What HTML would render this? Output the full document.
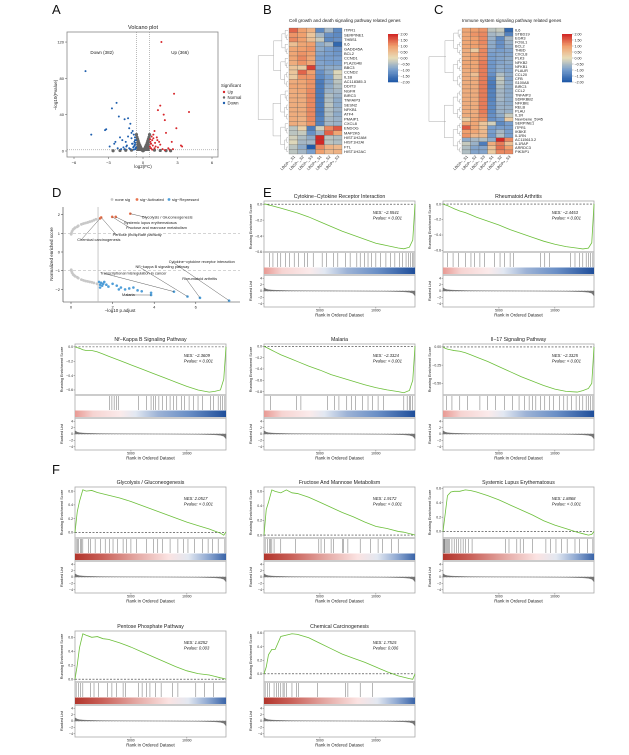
<!DOCTYPE html>
<html><head><meta charset="utf-8"><style>
html,body{margin:0;padding:0;background:#fff;}
svg{display:block;font-family:"Liberation Sans",Arial,sans-serif;}
</style></head><body>
<svg id="fig" width="629" height="755" viewBox="0 0 629 755">
<rect width="629" height="755" fill="#fff"/>
<g font-size="13" fill="#111">
<text x="52" y="14">A</text>
<text x="263" y="14">B</text>
<text x="434" y="14">C</text>
<text x="52" y="197">D</text>
<text x="263" y="197">E</text>
<text x="52" y="474">F</text>
</g>
</svg>
<script>
// ---------------- DATA ----------------
const downFC=[-5.0,-4.5,-3.2,-3.3,-2.3,-2.7,-2.1,-1.6,-1.3,-1.1,-1.2,-0.9,-0.8,-2.0,-1.8,-1.5,-1.0,-0.7,-0.9,-1.4,-2.5,-1.7,-1.2,-0.8,-0.7,-1.0,-1.3,-2.9,-2.2,-1.9,-0.75,-0.85,-0.65,-1.1,-0.95,-0.7,-1.6,-2.4,-1.45,-0.8,-0.62,-0.68,-0.72,-0.6,-0.66];
const downP=[88,18,24,23,53,47,38,35,36,30,25,22,18,15,12,10,14,12,8,6,8,4,3,5,7,20,16,5,3,2,10,4,3,2,8,15,2,10,5,1.5,12,9,6,4,2];
const upFC=[1.6,2.7,4.0,1.3,1.5,1.8,1.9,2.9,2.5,3.3,1.0,0.9,1.2,0.8,0.7,1.1,1.4,2.0,2.2,0.75,0.85,1.7,1.0,0.9,0.65,1.3,2.6,3.4,1.5,0.7,0.8,1.05,1.25,2.3,1.9,0.62,0.68,0.6,0.66];
const upP=[120,63,43,45,50,40,34,25,10,6,22,18,15,12,8,5,10,20,3,16,6,2,3,14,10,4,2,5,7,3,1.5,9,12,1.5,1,13,8,5,3];
const normFC=[-0.57,-0.52,-0.47,-0.42,-0.37,-0.32,-0.27,-0.22,-0.17,-0.12,-0.07,0,0.07,0.12,0.17,0.22,0.27,0.32,0.37,0.42,0.47,0.52,0.57,-2.0,-1.5,-1.0,1.0,1.5,2.0,-2.6,2.4];
const normP=[18,15,13,11,9,7,6,4.5,3,2,1,0.3,1,2,3,4.5,6,7,9,11,13,15,18,0.5,0.8,0.9,1.0,0.6,0.4,0.3,0.3];
const volXTicks=[-6,-3,0,3,6];
const volYTicks=[0,40,80,120];

const hmCols=["LBGP−_S1","LBGP−_S2","LBGP−_S3","LBGP+_S1","LBGP+_S2","LBGP+_S3"];
const genesB=["ITPR1","SERPINE1","THBS1","IL6","GADD45A","BCL2","CCND1","PLA2G4B","BBC3","CCND2","IL1B","AC118385.3","DDIT3","NGFR","BIRC3","TNFAIP3","SESN2","NFKB1","ATF4","PMAIP1","CXCL8","ENDOG","MAP2K6","HIST1H2AM","HIST1H2AI","FTL","HIST1H2AC"];
const valsB=[[1.5,1.0,0.7,-1.3,-0.6,-1.3],[1.1,1.0,0.4,-0.6,-1.2,-1.3],[1.2,1.0,0.5,-0.3,-1.3,-1.2],[0.5,0.9,1.0,-0.8,-0.6,-1.8],[0.9,1.0,1.1,-0.8,-1.0,-1.2],[0.9,1.1,1.0,-0.9,-1.0,-1.1],[0.9,1.2,0.9,-1.0,-1.0,-1.0],[0.8,1.1,0.9,-0.9,-1.0,-1.0],[0.4,0.3,1.8,-0.9,-0.8,-0.8],[0.4,1.5,1.0,-1.2,-0.8,-0.1],[0.3,1.1,1.1,-1.3,-1.0,-0.2],[0.8,0.9,1.1,-1.5,-0.9,-0.4],[0.9,0.9,1.1,-1.5,-0.8,-0.5],[0.8,0.9,1.2,-1.5,-0.7,-0.6],[0.8,0.8,1.2,-1.5,-0.5,-0.7],[0.8,0.8,1.2,-1.5,-0.5,-0.8],[0.8,0.8,1.2,-1.5,-0.4,-0.8],[0.8,0.8,1.2,-1.5,-0.5,-0.7],[0.8,0.8,1.2,-1.5,-0.5,-0.8],[0.8,0.7,1.2,-1.4,-0.6,-0.7],[0.8,0.7,1.1,-1.4,-0.6,-0.7],[-0.4,0.2,-1.5,-0.2,1.2,1.6],[-0.4,-0.3,-1.2,-0.7,1.5,0.9],[-0.2,-0.5,-0.8,2.0,-0.4,-0.5],[-0.1,-0.6,-0.6,2.0,-0.4,-0.5],[-0.4,-0.8,-2.0,1.2,0.7,0.6],[-0.4,-0.6,-1.0,1.0,0.6,0.7]];
const genesC=["IL6","STBD19","EGR3","FOSL1","BCL2","THBD","CXCL8","PLK3","NFKB2","NFKB1","PLAUR","CCL20","CFB","S100A8","BIRC3","CCL2","TNFAIP3","SDRKBB2","NFKBIE","RELB","PLAU","IL1R","NewGene_5945","SERPINE1","ITPR1","IKBKE","IL1RN","AC115613.2","IL1RAP","ARRDC3","PIK3IP1"];
const valsC=[[0.9,1.0,1.1,-0.4,-0.3,-1.8],[0.9,1.1,1.2,-0.6,-0.5,-1.4],[0.9,1.0,1.2,-0.7,-1.3,-0.6],[0.9,1.0,1.2,-0.8,-1.2,-0.7],[0.9,1.0,1.1,-0.8,-1.2,-0.8],[0.8,0.3,1.2,-0.9,-1.0,-0.9],[0.8,1.0,1.2,-1.0,-0.9,-0.9],[0.8,1.0,1.2,-1.0,-0.9,-0.8],[0.9,0.9,1.3,-1.1,-0.9,-0.8],[0.9,0.9,1.3,-1.1,-0.8,-0.9],[0.8,0.9,1.3,-1.1,-0.8,-0.9],[0.8,0.5,1.3,-1.2,-0.5,-0.8],[0.8,0.8,1.3,-1.4,-0.3,-0.9],[0.8,0.8,1.3,-1.5,-0.4,-0.8],[0.8,0.8,1.3,-1.5,-0.5,-0.8],[0.8,0.8,1.3,-1.4,-0.6,-0.8],[0.8,0.8,1.3,-1.4,-0.6,-0.8],[0.8,0.8,1.3,-1.4,-0.6,-0.8],[0.8,0.8,1.3,-1.3,-0.7,-0.8],[0.8,0.8,1.3,-1.3,-0.7,-0.7],[0.8,0.8,1.3,-1.3,-0.7,-0.7],[0.8,0.8,1.2,-1.2,-0.8,-0.3],[0.3,0.9,1.1,-1.2,-1.0,0.3],[0.9,0.9,0.4,-0.2,-1.3,-1.0],[1.6,0.9,0.5,-1.0,-1.0,-1.0],[1.0,0.9,0.6,-1.0,-0.6,-1.0],[1.1,0.6,0.6,-1.1,-0.5,-1.0],[-0.8,-0.6,-0.5,-0.8,2.0,1.2],[-0.3,-0.7,-1.5,0.8,1.3,0.5],[-0.5,-0.9,-0.9,0.5,1.4,1.0],[-0.5,-0.9,-0.9,0.3,1.2,1.2]];
const cbTicks=[2.0,1.5,1.0,0.5,0.0,-0.5,-1.0,-1.5,-2.0];

const noneP=[0.02,0.05,0.1,0.15,0.2,0.3,0.35,0.5,0.6,0.7,0.8,0.9,1.0,1.1,1.2,0.02,0.05,0.1,0.15,0.2,0.3,0.35,0.5,0.6,0.7,0.8,0.9,1.0,1.1,1.25,0.01,0.01];
const noneNES=[1.0,1.1,1.2,1.25,1.3,1.35,1.4,1.48,1.52,1.55,1.58,1.62,1.65,1.7,1.75,-1.0,-1.1,-1.2,-1.25,-1.3,-1.35,-1.4,-1.48,-1.52,-1.55,-1.57,-1.6,-1.62,-1.65,-1.7,-0.95,0.95];
const actP=[1.4,1.45,1.98,2.15,2.85];
const actNES=[1.8,1.85,1.88,1.88,2.05];
const repP=[1.35,1.4,1.45,1.5,1.55,1.6,1.4,1.7,1.8,2.0,2.2,2.4,2.6,2.8,3.0,3.2,3.4,2.3,3.85,3.85,4.95,5.6,6.2,7.6];
const repNES=[-1.6,-1.75,-1.65,-1.8,-1.7,-1.6,-1.9,-1.75,-1.85,-1.7,-1.8,-1.9,-2.0,-1.95,-1.9,-2.05,-2.1,-2.0,-2.18,-2.3,-2.12,-2.38,-2.45,-2.6];
const annText=["Glycolysis / Gluconeogenesis","Systemic lupus erythematosus","Fructose and mannose metabolism","Pentose phosphate pathway","Chemical carcinogenesis","Cytokine−cytokine receptor interaction","NF−kappa B signaling pathway","Transcriptional misregulation in cancer","Rheumatoid arthritis","Malaria"];
const annPtP=[2.85,2.15,1.98,1.45,1.4,7.6,5.6,4.95,6.2,3.85];
const annPtNES=[2.05,1.88,1.88,1.85,1.8,-2.6,-2.38,-2.12,-2.45,-2.3];
const annLabP=[3.4,2.55,2.65,2.0,0.3,4.7,3.1,1.4,5.35,2.45];
const annLabNES=[1.8,1.5,1.23,0.85,0.6,-0.6,-0.86,-1.2,-1.5,-2.35];
const dXTicks=[0,2,4,6];
const dYTicks=[2,1,0,-1,-2];

const esRanks=[0,200,400,700,1000,1500,2000,2500,3000,4000,5000,6000,7000,8000,9000,10000,11000,12000,12500,13000,13300,13500];
const rankedMetric=[1.0,0.6,0.4,0.3,0.25,0.2,0.15,0.12,0.1,0.07,0.05,0.03,0.01,-0.01,-0.03,-0.06,-0.1,-0.18,-0.25,-0.4,-0.7,-1.5];
const gseaTitles=["Cytokine−Cytokine Receptor Interaction","Rheumatoid Arthritis","Nf−Kappa B Signaling Pathway","Malaria","Il−17 Signaling Pathway","Glycolysis / Gluconeogenesis","Fructose And Mannose Metabolism","Systemic Lupus Erythematosus","Pentose Phosphate Pathway","Chemical Carcinogenesis"];
const gseaNES=["−2.5541","−2.4453","−2.3609","−2.3324","−2.3325","2.0517","1.9172","1.8868","1.8252","1.7515"];
const gseaP=["< 0.001","< 0.001","< 0.001","< 0.001","< 0.001","< 0.001","< 0.001","< 0.001","0.003","0.006"];
const es0=[0,0,-0.01,-0.02,-0.03,-0.05,-0.07,-0.09,-0.11,-0.16,-0.22,-0.28,-0.34,-0.39,-0.44,-0.49,-0.52,-0.55,-0.56,-0.54,-0.45,0];
const es1=[0,-0.01,-0.02,-0.04,-0.06,-0.09,-0.11,-0.14,-0.17,-0.22,-0.27,-0.33,-0.38,-0.43,-0.48,-0.52,-0.55,-0.57,-0.58,-0.57,-0.5,0];
const es2=[0,-0.01,-0.02,-0.04,-0.05,-0.05,-0.07,-0.1,-0.13,-0.19,-0.25,-0.31,-0.37,-0.43,-0.49,-0.55,-0.6,-0.63,-0.62,-0.6,-0.45,0];
const es3=[0,-0.02,-0.04,-0.07,-0.1,-0.15,-0.19,-0.23,-0.27,-0.35,-0.42,-0.5,-0.56,-0.62,-0.68,-0.73,-0.77,-0.8,-0.82,-0.78,-0.6,0];
const es4=[0,-0.02,-0.03,-0.04,-0.05,-0.06,-0.08,-0.11,-0.14,-0.2,-0.27,-0.34,-0.41,-0.47,-0.53,-0.58,-0.61,-0.62,-0.6,-0.57,-0.5,0];
const es5=[0,0.3,0.45,0.62,0.6,0.61,0.58,0.56,0.54,0.5,0.45,0.39,0.33,0.27,0.21,0.15,0.1,0.05,0.02,-0.01,-0.04,0.01];
const es6=[0,0.35,0.45,0.62,0.6,0.58,0.62,0.58,0.57,0.52,0.45,0.38,0.31,0.25,0.18,0.12,0.09,0.05,0.04,0.02,0.01,0];
const es7=[0,0.25,0.5,0.55,0.56,0.56,0.58,0.57,0.55,0.5,0.44,0.37,0.3,0.23,0.15,0.09,0.04,-0.01,-0.03,-0.05,-0.04,0];
const es8=[0,0.2,0.45,0.65,0.63,0.6,0.61,0.58,0.57,0.52,0.46,0.39,0.32,0.25,0.18,0.12,0.08,0.06,0.04,0.02,0.01,0];
const es9=[0,0.1,0.28,0.36,0.36,0.55,0.57,0.59,0.58,0.53,0.45,0.37,0.29,0.23,0.17,0.1,0.03,-0.03,-0.05,-0.07,-0.08,0];
const hits0=[500,800,1200,1500,1900,2300,2700,3100,3600,3900,4400,5200,5600,6200,6600,7300,7700,8300,8600,9000,9300,9600,10000,10400,10900,11300,11700,12100,12400,12700,12900,13100,13300,13400];
const hits1=[400,900,1400,2000,2500,2800,3300,3700,4600,5100,5500,6000,6300,8700,9100,9500,11400,11800,12200,12500,12800,13000,13200,13400];
const hits2=[3100,3300,3500,3700,3900,5700,6400,6800,7000,7200,7500,7800,8200,8500,8800,9100,9500,9800,10200,10600,11000,11400,12100,12400,12800,13000,13200,13400];
const hits3=[600,2900,3300,5700,6300,6700,7400,7800,8200,8800,9300,9700,10200,10700,12500,12800,13000,13100,13300];
const hits4=[300,800,1500,2200,3300,4000,4700,5500,6200,6800,7300,7700,8000,8300,8700,9100,9500,9900,10400,10800,11100,11500,11900,12200,12500,12800,13000,13200,13400];
const hits5=[100,200,300,500,600,700,1200,1400,1800,2300,2700,3100,3400,3800,4300,4600,5000,5500,6400,7000,7400,7800,8500,9200,9700,10100,10700,11400,11900,12300,12800,13400];
const hits6=[100,300,500,600,700,900,1500,2800,4900,5100,5400,6000,6200,7000,7100,7500,8600,9500,10200,10600,11400,12000];
const hits7=[50,100,150,200,300,400,500,600,800,1000,1200,1400,1600,1800,2000,2300,2600,5600,5900,6600,6900,7200,8000,9200,9600,10100,10600,11100,11800,12200,12900,13400];
const hits8=[100,300,500,700,1400,1700,2100,2900,3300,3700,4300,4500,5700,6000,6400,6700,7200,7700,8700,9200,10800,11600,12400];
const hits9=[100,300,500,900,1100,1300,1500,1700,1800,2000,2500,2900,3100,4800,7300,7500,8600,9700,13400];
const esList=[es0,es1,es2,es3,es4,es5,es6,es7,es8,es9];
const hitList=[hits0,hits1,hits2,hits3,hits4,hits5,hits6,hits7,hits8,hits9];
const rankTicks=[5000,10000];
const metricTicks=[4,2,0,-2,-4];

// ---------------- DRAWING ----------------
const NS="http://www.w3.org/2000/svg";
const svg=document.getElementById('fig');
function mk(tag,attrs,parent){const e=document.createElementNS(NS,tag);for(const k in attrs)e.setAttribute(k,attrs[k]);(parent||svg).appendChild(e);return e;}
function txt(x,y,s,size,parent,extra){const t=mk('text',Object.assign({x:x,y:y,'font-size':size,fill:'#222'},extra||{}),parent);t.textContent=s;return t;}

(function(){
 const g=mk('g',{});
 
 
 const X0=67,X1=218,Y0=32,Y1=157;
 const sx=v=>143+v*11.5, sy=v=>151-v*0.908;
 const fr=mk('rect',{x:X0,y:Y0,width:X1-X0,height:Y1-Y0,fill:'none',stroke:'#888','stroke-width':0.8},g);
 
 
 const t=txt(143,29,"Volcano plot",5.5,g,{'text-anchor':'middle'});
 
 
 volXTicks.forEach(v=>{mk('line',{x1:sx(v),x2:sx(v),y1:Y1,y2:Y1+2,stroke:'#555','stroke-width':0.5},g);txt(sx(v),Y1+7,v===0?"0":String(v).replace('-','−'),4,g,{'text-anchor':'middle'});});
 volYTicks.forEach(v=>{mk('line',{x1:X0-2,x2:X0,y1:sy(v),y2:sy(v),stroke:'#555','stroke-width':0.5},g);txt(X0-3,sy(v)+1.5,String(v),4,g,{'text-anchor':'end'});});
 const xl=txt(143,168,"log2(FC)",4.5,g,{'text-anchor':'middle'});
 
 
 const yl=txt(0,0,"−log10(Pvalue)",4.5,g,{'text-anchor':'middle',transform:`translate(57,95) rotate(-90)`});
 
 
 [sx(-0.58),sx(0.58)].forEach(x=>mk('line',{x1:x,x2:x,y1:Y0,y2:Y1,stroke:'#777','stroke-width':0.5,'stroke-dasharray':'1,1'},g));
 mk('line',{x1:X0,x2:X1,y1:sy(1.3),y2:sy(1.3),stroke:'#777','stroke-width':0.5,'stroke-dasharray':'1,1'},g);
 normFC.forEach((v,i)=>{const c=mk('circle',{cx:sx(v),cy:sy(normP[i]),r:1.6,fill:'#666'},g);
  
  });
 const vpts=normFC.slice(0,23).map((v,i)=>`${sx(v)},${sy(normP[i])}`);
 mk('polygon',{points:vpts.join(' ')+` ${sx(0.57)},${sy(0)} ${sx(-0.57)},${sy(0)}`,fill:'#666'},g);
 downFC.forEach((v,i)=>{const c=mk('circle',{cx:sx(v),cy:sy(downP[i]),r:1,fill:'#1f5fae'},g);
  
  });
 upFC.forEach((v,i)=>{const c=mk('circle',{cx:sx(v),cy:sy(upP[i]),r:1,fill:'#d7262b'},g);
  
  });
 const d=txt(102,54,"Down (382)",4.5,g,{'text-anchor':'middle'});
 
 
 const u=txt(180,54,"Up (366)",4.5,g,{'text-anchor':'middle'});
 
 
 const lg=mk('g',{},g);
 
 
 txt(221,87,"Significant",4.3,lg);
 [["Up","#d7262b"],["Normal","#666"],["Down","#1f5fae"]].forEach((e,i)=>{mk('circle',{cx:224,cy:92+i*5.5,r:1.2,fill:e[1]},lg);txt(227.5,93.5+i*5.5,e[0],4.3,lg);});
})();

function hmColor(v){
 const stops=[[-2,[33,90,168]],[-1,[120,158,205]],[0,[232,221,184]],[1,[240,160,110]],[2,[210,40,38]]];
 v=Math.max(-2,Math.min(2,v));
 for(let i=0;i<stops.length-1;i++){const a=stops[i],b=stops[i+1];if(v<=b[0]){const t=(v-a[0])/(b[0]-a[0]);return 'rgb('+a[1].map((c,j)=>Math.round(c+(b[1][j]-c)*t)).join(',')+')';}}
 return 'rgb(210,40,38)';
}
function heatmap(name,title,genes,vals,X0,X1,Y0,Y1,dendX,cbX){
 const g=mk('g',{});
 
 
 const n=genes.length, cw=(X1-X0)/hmCols.length, rh=(Y1-Y0)/n;
 const tt=txt(X0,22,title,4.6,g);
 
 
 vals.forEach((row,r)=>row.forEach((v,c)=>{const cell=mk('rect',{x:X0+c*cw,y:Y0+r*rh,width:cw,height:rh,fill:hmColor(v),stroke:'#555','stroke-width':0.25},g);
  
  }));
 genes.forEach((s,r)=>{const t=txt(X1+2,Y0+r*rh+rh*0.8,s,Math.min(4,rh*0.95),g);
  
  });
 hmCols.forEach((s,c)=>{const x=X0+c*cw+cw/2;const t=txt(0,0,s,3.8,g,{'text-anchor':'end',transform:`translate(${x+2},${Y1+3}) rotate(-45)`});
  
  });
 function dend(a,b,depth){ if(b-a<=1){return {y:Y0+(a+0.5)*rh,x:X0-1};}
  const m=Math.floor((a+b)/2);const l=dend(a,m,depth+1),r=dend(m,b,depth+1);
  const x=Math.min(l.x,r.x)-Math.max(1.2,(b-a)*0.55);
  mk('path',{d:`M${l.x},${l.y}H${x}V${r.y}H${r.x}`,fill:'none',stroke:'#999','stroke-width':0.4},g);
  return {x:Math.max(x,dendX),y:(l.y+r.y)/2};}
 dend(0,n,0);
 const cb=mk('g',{},g);
 
 
 const cy0=34,cy1=82,steps=40;
 for(let i=0;i<steps;i++){const v=2-4*i/(steps-1);mk('rect',{x:cbX,y:cy0+(cy1-cy0)*i/steps,width:10,height:(cy1-cy0)/steps+0.3,fill:hmColor(v)},cb);}
 cbTicks.forEach(v=>{const y=cy0+(2-v)/4*(cy1-cy0);mk('line',{x1:cbX+10,x2:cbX+11.5,y1:y,y2:y,stroke:'#444','stroke-width':0.3},cb);txt(cbX+12.5,y+1.3,(v<0?'−':'')+Math.abs(v).toFixed(2),3.6,cb);});
}
heatmap('heatmap-b',"Cell growth and death signaling pathway related genes",genesB,valsB,289,342,28,154,271,388);
heatmap('heatmap-c',"Immune system signaling pathway related genes",genesC,valsC,462,513,28,154,446,562);

(function(){
 const g=mk('g',{});
 
 
 const sx=v=>71+v*20.8, sy=v=>252-v*18.7;
 const X0=63,X1=240,Y1=302;
 mk('line',{x1:X0,x2:X0,y1:207,y2:Y1,stroke:'#333','stroke-width':0.6},g);
 mk('line',{x1:X0,x2:X1,y1:Y1,y2:Y1,stroke:'#333','stroke-width':0.6},g);
 dXTicks.forEach(v=>{mk('line',{x1:sx(v),x2:sx(v),y1:Y1,y2:Y1+2,stroke:'#333','stroke-width':0.5},g);txt(sx(v),Y1+6.5,String(v),4,g,{'text-anchor':'middle'});});
 dYTicks.forEach(v=>{mk('line',{x1:X0-2,x2:X0,y1:sy(v),y2:sy(v),stroke:'#333','stroke-width':0.5},g);txt(X0-3,sy(v)+1.5,v<0?'−'+Math.abs(v):String(v),4,g,{'text-anchor':'end'});});
 const xl=txt(120,312,"−log10 p.adjust",4.5,g,{'text-anchor':'middle'});
 
 
 const yl=txt(0,0,"Normalized enriched score",4.5,g,{'text-anchor':'middle',transform:'translate(53,254) rotate(-90)'});
 
 
 mk('line',{x1:sx(1.3),x2:sx(1.3),y1:207,y2:Y1,stroke:'#bbb','stroke-width':0.8},g);
 [1,-1].forEach(v=>mk('line',{x1:X0,x2:X1,y1:sy(v),y2:sy(v),stroke:'#aaa','stroke-width':0.5,'stroke-dasharray':'3,2'},g));
 noneP.forEach((v,i)=>{const c=mk('circle',{cx:sx(v),cy:sy(noneNES[i]),r:1.4,fill:'#c8c8c8'},g);
  
  });
 actP.forEach((v,i)=>{const c=mk('circle',{cx:sx(v),cy:sy(actNES[i]),r:1.3,fill:'#e8744f'},g);
  
  });
 repP.forEach((v,i)=>{const c=mk('circle',{cx:sx(v),cy:sy(repNES[i]),r:1.3,fill:'#4f9ed8'},g);
  
  });
 annText.forEach((s,i)=>{const lx=sx(annLabP[i]),ly=sy(annLabNES[i]);
  mk('line',{x1:sx(annPtP[i]),y1:sy(annPtNES[i]),x2:lx+4,y2:ly-1,stroke:'#333','stroke-width':0.4},g);
  const t=txt(lx,ly,s,3.9,g);
  
  });
 const lg=mk('g',{},g);
 
 
 [["none sig","#c8c8c8",115],["sig−Activated","#e8744f",140],["sig−Repressed","#4f9ed8",172]].forEach(e=>{mk('circle',{cx:e[2]-3,cy:199.5,r:1.4,fill:e[1]},lg);txt(e[2],201,e[0],4,lg);});
})();

const panelPos=[[264,201],[443,201],[75,344],[264,344],[443,344],[75,487],[264,487],[443,487],[75,631],[264,631]];
const N=13500, W=151;
panelPos.forEach((p,k)=>{
 const [x0,top]=p;
 const g=mk('g',{});
 
 
 const es=esList[k], hits=hitList[k], neg=gseaNES[k].startsWith('−');
 const esBot=top+51, barBot=esBot+23, rkBot=barBot+32;
 const sx=r=>x0+r/N*W;
 let mn=Math.min(...es), mx=Math.max(...es);
 const lo=mn-0.04, hi=mx+0.04;
 const sy=v=>esBot-(v-lo)/(hi-lo)*(esBot-top);
 const tt=txt(x0+W/2,top-3,gseaTitles[k],5.2,g,{'text-anchor':'middle'});
 
 
 mk('rect',{x:x0,y:top,width:W,height:rkBot-top,fill:'none',stroke:'#aaa','stroke-width':0.8},g);
 mk('line',{x1:x0,x2:x0+W,y1:esBot,y2:esBot,stroke:'#bbb','stroke-width':1.5},g);
 mk('line',{x1:x0,x2:x0+W,y1:barBot,y2:barBot,stroke:'#bbb','stroke-width':1.5},g);
 const step=(k===4)?0.25:0.2;
 for(let v=Math.ceil(lo/step)*step; v<=hi+1e-9; v+=step){const y=sy(v);mk('line',{x1:x0-1.5,x2:x0,y1:y,y2:y,stroke:'#555','stroke-width':0.4},g);
  txt(x0-2,y+1.2,(v<-1e-9?'−':'')+Math.abs(v).toFixed(step===0.25?2:1),3.4,g,{'text-anchor':'end'});}
 mk('line',{x1:x0,x2:x0+W,y1:sy(0),y2:sy(0),stroke:'#333','stroke-width':0.6,'stroke-dasharray':'2,1.5'},g);
 const line=mk('polyline',{points:esRanks.map((r,i)=>`${sx(r)},${sy(es[i])}`).join(' '),fill:'none',stroke:'#6cbf3a','stroke-width':0.8},g);
 
 
 const t1=txt(x0+W*0.72,top+13,"NES: "+gseaNES[k],4.2,g,{'font-style':'italic'});
 
 
 const t2=txt(x0+W*0.72,top+18.5,"Pvalue: "+gseaP[k],4.2,g,{'font-style':'italic'});
 
 
 const yl=txt(0,0,"Running Enrichment Score",3.8,g,{'text-anchor':'middle',transform:`translate(${x0-12},${(top+esBot)/2}) rotate(-90)`});
 
 
 hits.forEach(h=>{const l=mk('line',{x1:sx(h),x2:sx(h),y1:esBot+1,y2:barBot-8,stroke:'#333','stroke-width':0.45,'stroke-opacity':0.8},g);
  
  });
 const gid='grad'+k;
 const defs=mk('defs',{},g);
 const lgd=mk('linearGradient',{id:gid,x1:0,x2:1,y1:0,y2:0},defs);
 const stops=neg?[[0,'#e89a94'],[0.12,'#f6d4d2'],[0.3,'#fbeaea'],[0.4,'#e2e8f2'],[0.55,'#9db3d6'],[0.75,'#6a8fc6'],[1,'#1f4e9a']]
                :[[0,'#b2352c'],[0.18,'#c96058'],[0.4,'#e3a6a1'],[0.62,'#fbe3e2'],[0.75,'#e3e8f1'],[0.88,'#8fa9d2'],[1,'#3a64a8']];
 stops.forEach(s=>mk('stop',{offset:s[0],'stop-color':s[1]},lgd));
 const st=mk('rect',{x:x0,y:barBot-7.5,width:W,height:6.5,fill:`url(#${gid})`},g);
 
 
 const my=v=>barBot+(5-v)/10*(rkBot-barBot);
 metricTicks.forEach(v=>{const y=my(v);mk('line',{x1:x0-1.5,x2:x0,y1:y,y2:y,stroke:'#555','stroke-width':0.4},g);txt(x0-2,y+1.2,v<0?'−'+Math.abs(v):String(v),3.4,g,{'text-anchor':'end'});});
 const area=mk('polygon',{points:`${sx(0)},${my(0)} `+esRanks.map((r,i)=>`${sx(r)},${my(rankedMetric[i])}`).join(' ')+` ${sx(N)},${my(0)}`,fill:'#777',stroke:'#555','stroke-width':0.3},g);
 
 
 mk('line',{x1:x0,x2:x0+W,y1:my(0),y2:my(0),stroke:'#888','stroke-width':0.5,'stroke-dasharray':'1.5,1.5'},g);
 const rl=txt(0,0,"Ranked List",3.8,g,{'text-anchor':'middle',transform:`translate(${x0-12},${(barBot+rkBot)/2}) rotate(-90)`});
 
 
 rankTicks.forEach(r=>{mk('line',{x1:sx(r),x2:sx(r),y1:rkBot,y2:rkBot+1.5,stroke:'#555','stroke-width':0.4},g);txt(sx(r),rkBot+4.5,String(r),3.4,g,{'text-anchor':'middle'});});
 const xl=txt(x0+W/2,rkBot+9.5,"Rank in Ordered Dataset",4.4,g,{'text-anchor':'middle'});
 
 
});
</script>
</body></html>
